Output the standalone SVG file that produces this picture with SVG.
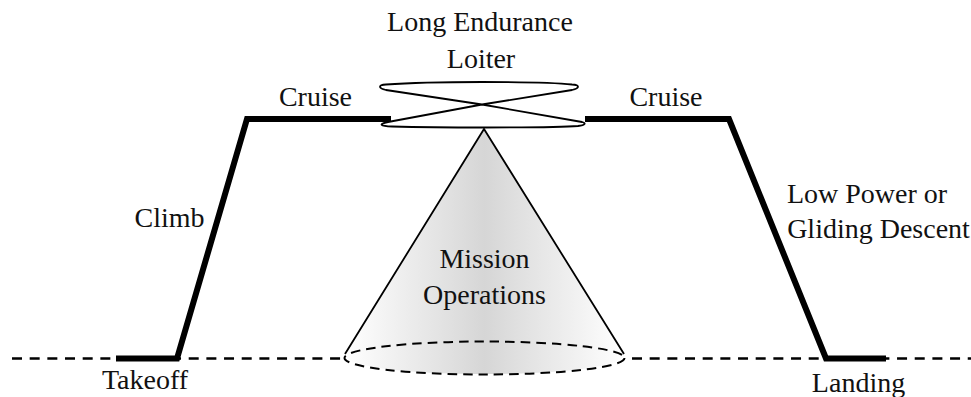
<svg xmlns="http://www.w3.org/2000/svg" width="971" height="397" viewBox="0 0 971 397">
<style>
text{font-family:"Liberation Serif","Times New Roman",serif;font-size:28px;fill:#111;text-anchor:middle}
.thick{fill:none;stroke:#000;stroke-width:6;stroke-linejoin:miter}
.thin{fill:none;stroke:#000;stroke-width:1.8}
.dash{fill:none;stroke:#000;stroke-width:2.400;stroke-dasharray:10 7.670}
</style>
<defs>
<linearGradient id="g" gradientUnits="userSpaceOnUse" x1="345" y1="0" x2="624" y2="0">
<stop offset="0" stop-color="#fff"/><stop offset="0.5" stop-color="#d6d6d6"/><stop offset="1" stop-color="#fff"/>
</linearGradient>
</defs>
<g id="ground"><path class="dash" d="M12 358.500H345M632 358.500H971"/></g>
<g id="cone">
<path d="M484 129L345 354C345 367 407 374 484 374S624 367 624 354Z" fill="url(#g)"/>
<path class="thin" d="M345 354L484 129L624 354"/>
<ellipse cx="484.500" cy="358" rx="140" ry="16.500" fill="none" stroke="#000" stroke-width="2" stroke-dasharray="9.500 6"/>
<text x="484.500" y="268">Mission</text>
<text x="484.500" y="304">Operations</text>
</g>
<g id="loiter">
<path class="thin" d="M482 104.500L386 90C378 88 378 85 386 84.500C420 82 450 82 482 82C520 82 550 82 572 84.500C580 85 580 88 572 90L482 104.500L388 122C378 124 380 126 392 126.500C430 127.500 450 127.500 484 127.500C530 127.500 560 127.500 578 126C586 125 586 123 582 122L482 104.500Z"/>
<text x="480" y="31">Long Endurance</text>
<text x="481" y="68">Loiter</text>
</g>
<g id="connectors">
<path class="thick" d="M116 358.500H177L247 119H391"/>
<path class="thick" d="M585 119H729L826 358.500H886"/>
</g>
<g id="labels">
<text x="315.500" y="106">Cruise</text>
<text x="666" y="106">Cruise</text>
<text x="169.500" y="227">Climb</text>
<text x="867" y="203">Low Power or</text>
<text x="878.500" y="238">Gliding Descent</text>
<text x="145" y="389">Takeoff</text>
<text x="858.500" y="391.500">Landing</text>
</g>
</svg>
